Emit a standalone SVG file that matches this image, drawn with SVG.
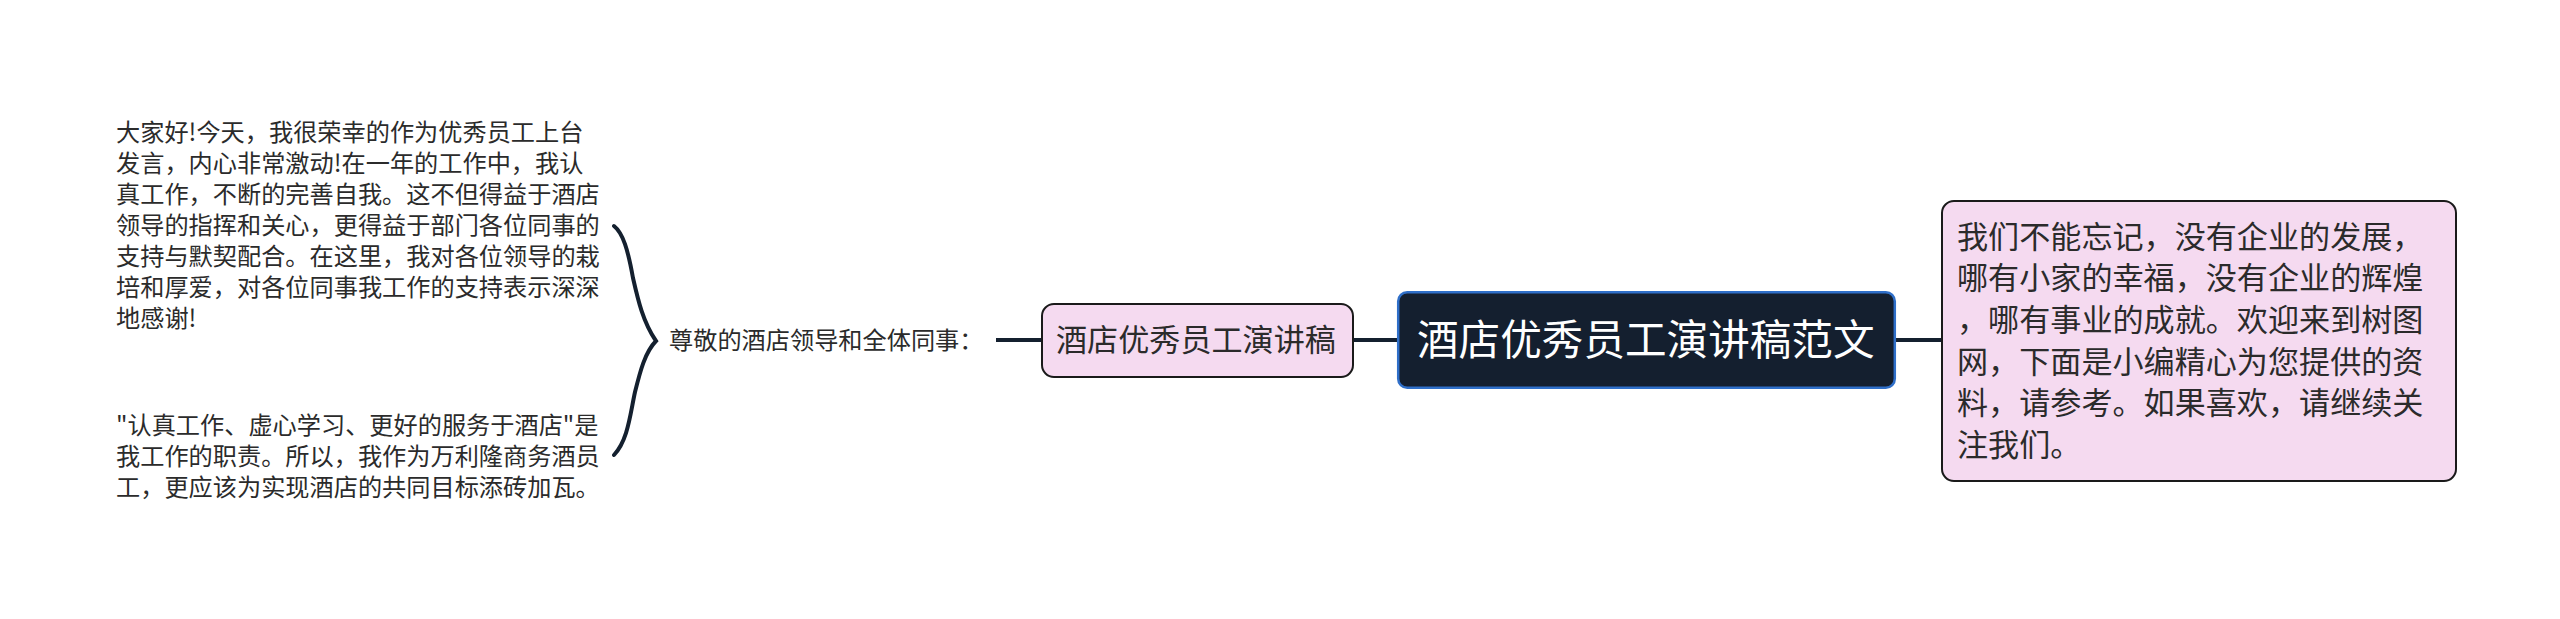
<svg xmlns="http://www.w3.org/2000/svg" width="2560" height="619" viewBox="0 0 2560 619">
<style>
text{font-family:"Noto Sans CJK SC","Noto Sans",sans-serif;fill:#2b2b2b}
.s{font-size:24.2px}
.m{font-size:31.1px}
.c{fill:none;stroke:#14202f;stroke-width:4;stroke-linecap:round}
.l{fill:none;stroke:#14202f;stroke-width:4}
.p{fill:#f5daf0;stroke:#1a1a1a;stroke-width:2}
</style>
<rect width="2560" height="619" fill="#fff"/>
<g id="connectors">
<path class="l" d="M1896 340H1941"/>
<path class="l" d="M1353 340H1397"/>
<path class="l" d="M996 340H1041"/>
<path class="c" d="M614 226C623 233 628 250 633 278C638 300 643 322 656 341C645 352 640 372 635 392C630 415 628 440 614 455"/>
</g>
<g id="root">
<rect x="1398.2" y="292.2" width="496.6" height="95.6" rx="9" fill="#141f2f" stroke="#2f6fc9" stroke-width="2.5"/>
<text x="1417" y="355" font-size="41.6" style="fill:#fff">酒店优秀员工演讲稿范文</text>
</g>
<g id="branch-right">
<rect class="p" x="1942" y="201" width="514" height="280" rx="12"/>
<text class="m" x="1957" y="248">我们不能忘记，没有企业的发展，</text>
<text class="m" x="1957" y="289">哪有小家的幸福，没有企业的辉煌</text>
<text class="m" x="1957" y="331">，哪有事业的成就。欢迎来到树图</text>
<text class="m" x="1957" y="373">网，下面是小编精心为您提供的资</text>
<text class="m" x="1957" y="414">料，请参考。如果喜欢，请继续关</text>
<text class="m" x="1957" y="456">注我们。</text>
</g>
<g id="branch-left">
<rect class="p" x="1042" y="304" width="311" height="73" rx="12"/>
<text class="m" x="1056" y="351">酒店优秀员工演讲稿</text>
</g>
<g id="sub">
<text class="s" x="669" y="349">尊敬的酒店领导和全体同事：</text>
</g>
<g id="leaf-1">
<text class="s" x="116" y="141">大家好!今天，我很荣幸的作为优秀员工上台</text>
<text class="s" x="116" y="172">发言，内心非常激动!在一年的工作中，我认</text>
<text class="s" x="116" y="203">真工作，不断的完善自我。这不但得益于酒店</text>
<text class="s" x="116" y="234">领导的指挥和关心，更得益于部门各位同事的</text>
<text class="s" x="116" y="265">支持与默契配合。在这里，我对各位领导的栽</text>
<text class="s" x="116" y="296">培和厚爱，对各位同事我工作的支持表示深深</text>
<text class="s" x="116" y="327">地感谢!</text>
</g>
<g id="leaf-2">
<text class="s" x="116" y="434">"认真工作、虚心学习、更好的服务于酒店"是</text>
<text class="s" x="116" y="465">我工作的职责。所以，我作为万利隆商务酒员</text>
<text class="s" x="116" y="496">工，更应该为实现酒店的共同目标添砖加瓦。</text>
</g>
</svg>
